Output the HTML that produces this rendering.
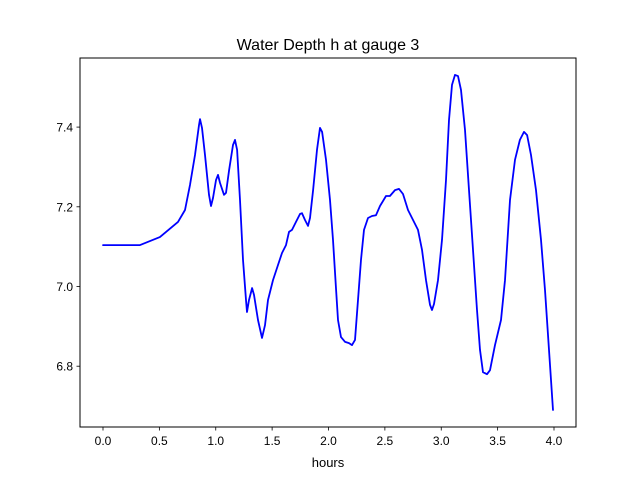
<!DOCTYPE html>
<html><head><meta charset="utf-8"><style>
body{margin:0;background:#fff;}
svg text{font-family:"Liberation Sans","DejaVu Sans",sans-serif;fill:#000;}
</style></head><body>
<svg id="chart" width="640" height="480" xmlns="http://www.w3.org/2000/svg">
<rect width="640" height="480" fill="#fff"/>
<text x="328" y="50" font-size="16" text-anchor="middle">Water Depth h at gauge 3</text>
<g id="plot"></g>
<rect x="80" y="58" width="496" height="369" fill="none" stroke="#000" stroke-width="1"/>
<text x="328" y="467" font-size="13" text-anchor="middle">hours</text>
</svg>
<script>
const hours=[0,0.328,0.505,0.665,0.727,0.772,0.816,0.851,0.860,0.878,0.905,0.940,0.958,0.976,1.002,1.020,1.038,1.073,1.091,1.118,1.153,1.171,1.189,1.215,1.242,1.268,1.277,1.295,1.322,1.339,1.375,1.410,1.437,1.463,1.508,1.552,1.588,1.623,1.650,1.676,1.712,1.747,1.765,1.792,1.818,1.836,1.863,1.898,1.925,1.943,1.978,2.013,2.040,2.067,2.084,2.111,2.147,2.182,2.208,2.235,2.262,2.288,2.315,2.350,2.386,2.421,2.457,2.510,2.545,2.590,2.625,2.661,2.705,2.794,2.829,2.865,2.900,2.918,2.936,2.971,3.007,3.042,3.069,3.095,3.122,3.149,3.175,3.211,3.246,3.282,3.317,3.344,3.370,3.406,3.432,3.477,3.530,3.565,3.610,3.654,3.698,3.734,3.761,3.796,3.840,3.885,3.920,3.956,3.991];
const depth=[7.104,7.104,7.124,7.162,7.192,7.255,7.330,7.405,7.420,7.398,7.330,7.230,7.202,7.222,7.267,7.280,7.260,7.230,7.235,7.292,7.355,7.368,7.343,7.217,7.067,6.966,6.936,6.966,6.996,6.979,6.916,6.871,6.903,6.966,7.016,7.054,7.084,7.104,7.137,7.142,7.162,7.182,7.184,7.167,7.152,7.172,7.242,7.343,7.398,7.388,7.318,7.217,7.117,6.991,6.916,6.873,6.861,6.858,6.853,6.866,6.966,7.067,7.142,7.172,7.177,7.179,7.202,7.227,7.227,7.242,7.245,7.232,7.192,7.142,7.092,7.016,6.954,6.941,6.956,7.016,7.117,7.267,7.418,7.506,7.531,7.528,7.493,7.393,7.242,7.092,6.941,6.841,6.785,6.780,6.790,6.853,6.916,7.016,7.217,7.318,7.368,7.388,7.380,7.330,7.242,7.117,6.991,6.841,6.690];
const xTicks=[0,0.5,1,1.5,2,2.5,3,3.5,4];
const xTickLabels=["0.0","0.5","1.0","1.5","2.0","2.5","3.0","3.5","4.0"];
const yTicks=[6.8,7.0,7.2,7.4];
const yTickLabels=["6.8","7.0","7.2","7.4"];
const NS="http://www.w3.org/2000/svg";
const X=v=>103+v*112.75;
const Y=v=>286.5-(v-7)*398.5;
const g=document.getElementById('plot');
function mk(t,a){const e=document.createElementNS(NS,t);for(const k in a)e.setAttribute(k,a[k]);g.appendChild(e);return e;}
xTicks.forEach((t,i)=>{
 const l=mk('line',{x1:X(t),x2:X(t),y1:427,y2:430.5,stroke:'#000','stroke-width':0.8});
 
 
 const tx=mk('text',{x:X(t),y:445,'font-size':12,'text-anchor':'middle'});
 tx.textContent=xTickLabels[i];
 
 
});
yTicks.forEach((t,i)=>{
 const l=mk('line',{x1:76.5,x2:80,y1:Y(t),y2:Y(t),stroke:'#000','stroke-width':0.8});
 
 
 const tx=mk('text',{x:73,y:Y(t)+4.5,'font-size':12,'text-anchor':'end'});
 tx.textContent=yTickLabels[i];
 
 
});
const pts=hours.map((h,i)=>X(h).toFixed(1)+','+Y(depth[i]).toFixed(1)).join(' ');
const line=mk('polyline',{points:pts,fill:'none',stroke:'#0000ff','stroke-width':1.8,'stroke-linejoin':'round','stroke-linecap':'round'});


</script>
</body></html>
